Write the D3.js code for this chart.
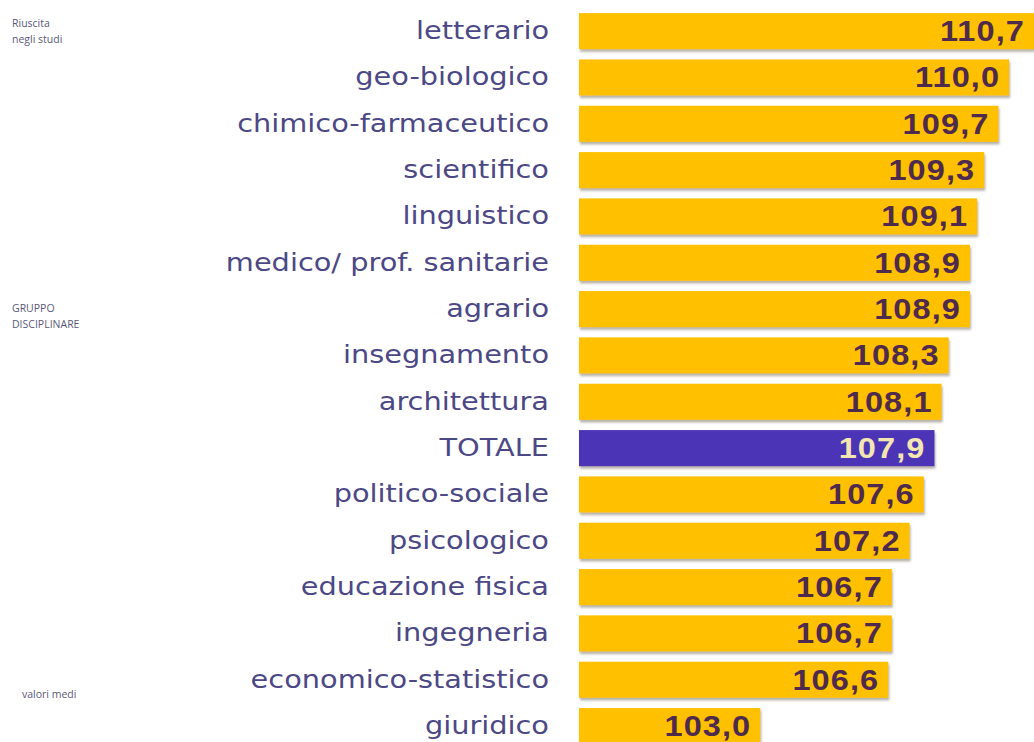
<!DOCTYPE html>
<html>
<head>
<meta charset="utf-8">
<script src="https://cdn.jsdelivr.net/npm/d3@7"></script>
<style>
  body { margin: 0; background: #fff; }
  svg { display: block; }
</style>
</head>
<body>
<div class="container"></div>
<script>
const categories = [
  'letterario', 'geo-biologico', 'chimico-farmaceutico', 'scientifico',
  'linguistico', 'medico/ prof. sanitarie', 'agrario', 'insegnamento',
  'architettura', 'TOTALE', 'politico-sociale', 'psicologico',
  'educazione fisica', 'ingegneria', 'economico-statistico', 'giuridico'
]
const values = [110.7, 110.0, 109.7, 109.3, 109.1, 108.9, 108.9, 108.3,
  108.1, 107.9, 107.6, 107.2, 106.7, 106.7, 106.6, 103.0]
const sideNotes = [
  { lines: ['Riuscita', 'negli studi'], x: 12, y: 27 },
  { lines: ['GRUPPO', 'DISCIPLINARE'], x: 12, y: 312 },
  { lines: ['valori medi'], x: 22, y: 698 }
]

const width = 1034
const height = 742
const data = categories.map((c, i) => ({ name: c, value: values[i] }))

const svg = d3.select('.container')
  .append('svg')
    .attr('width', width)
    .attr('height', height)

const defs = svg.append('defs')
const shadow = defs.append('filter')
  .attr('id', 'shadow')
  .attr('x', '-5%').attr('y', '-20%')
  .attr('width', '110%').attr('height', '160%')
shadow.append('feDropShadow')
  .attr('dx', 1).attr('dy', 2.5)
  .attr('stdDeviation', 1.3)
  .attr('flood-color', '#7a7060')
  .attr('flood-opacity', 0.55)

const xScale = d3.scaleLinear()
  .domain([97.9, 110.7])
  .range([579, 1034])

const yScale = d3.scaleBand()
  .domain(categories)
  .range([8, 8 + 16 * 46.33])
  .paddingInner(0.22)
  .paddingOuter(0.11)

svg.selectAll('rect.bar')
  .data(data)
  .enter()
  .append('rect')
    .attr('class', 'bar')
    .attr('x', xScale(97.9))
    .attr('y', d => yScale(d.name))
    .attr('width', d => xScale(d.value) - xScale(97.9))
    .attr('height', yScale.bandwidth())
    .attr('fill', d => d.name === 'TOTALE' ? '#4b35b6' : '#ffc000')
    .attr('filter', 'url(#shadow)')

const fmt = v => v.toFixed(1).replace('.', ',')

svg.selectAll('text.value')
  .data(data)
  .enter()
  .append('text')
    .attr('class', 'value')
    .attr('text-anchor', 'end')
    .attr('transform', d => `translate(${xScale(d.value) - 9}, ${yScale(d.name) + yScale.bandwidth() / 2 + 10}) scale(1.12, 1)`)
    .attr('font-family', 'Liberation Sans, Arial, sans-serif')
    .attr('font-weight', 'bold')
    .attr('font-size', 29)
    .attr('letter-spacing', 1)
    .attr('fill', d => d.name === 'TOTALE' ? '#f3e6b0' : '#4e2a4c')
    .text(d => fmt(d.value))

svg.selectAll('text.label')
  .data(data)
  .enter()
  .append('text')
    .attr('class', 'label')
    .attr('text-anchor', 'end')
    .attr('transform', d => `translate(549, ${yScale(d.name) + yScale.bandwidth() / 2 + 8}) scale(1.2, 1)`)
    .attr('font-family', 'DejaVu Sans, Verdana, sans-serif')
    .attr('font-size', 24)
    .attr('fill', '#4c4886')
    .text(d => d.name)

const notes = svg.selectAll('text.note')
  .data(sideNotes)
  .enter()
  .append('text')
    .attr('class', 'note')
    .attr('x', d => d.x)
    .attr('y', d => d.y)
    .attr('font-family', 'Open Sans, Liberation Sans, sans-serif')
    .attr('font-size', 10.5)
    .attr('fill', '#5a5878')

notes.selectAll('tspan')
  .data(d => d.lines.map(l => ({ l, x: d.x })))
  .enter()
  .append('tspan')
    .attr('x', d => d.x)
    .attr('dy', (d, i) => i === 0 ? 0 : 16)
    .text(d => d.l)
</script>
</body>
</html>
